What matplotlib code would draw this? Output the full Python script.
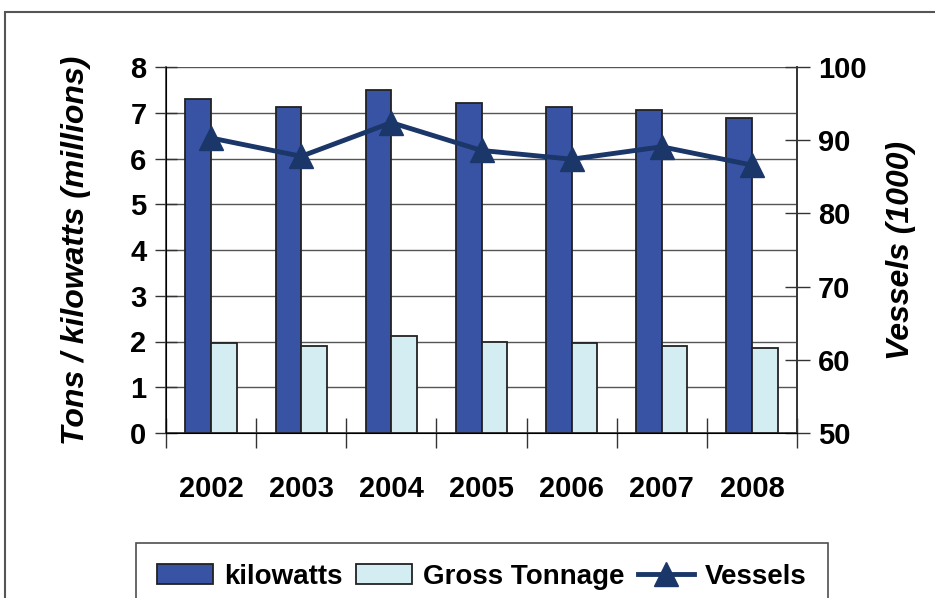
import matplotlib
matplotlib.use("Agg")
import matplotlib.pyplot as plt
from matplotlib.patches import Rectangle
import numpy as np

years = ["2002", "2003", "2004", "2005", "2006", "2007", "2008"]
kilowatts = [7.3, 7.12, 7.5, 7.22, 7.12, 7.07, 6.88]
gross_tonnage = [1.96, 1.91, 2.11, 2.0, 1.96, 1.91, 1.85]
vessels = [90.3, 87.8, 92.4, 88.6, 87.4, 89.1, 86.6]

plt.rcParams["font.family"] = ["Liberation Sans", "DejaVu Sans"]
plt.rcParams["font.weight"] = "bold"
fs = 21

fig = plt.figure(figsize=(9.35, 5.98), dpi=100)
ax = fig.add_axes([166/935, 1-433/598, (797-166)/935, (433-67)/598])

x = np.arange(len(years))
w = 0.285
ax.bar(x - w/2, kilowatts, w, color="#3953A4", edgecolor="#222222", linewidth=1.3,
       label="kilowatts", zorder=3)
ax.bar(x + w/2, gross_tonnage, w, color="#D4EDF3", edgecolor="#222222", linewidth=1.3,
       label="Gross Tonnage", zorder=3)

ax.set_xlim(-0.5, len(years) - 0.5)
ax.set_ylim(0, 8)
ax.set_yticks(range(0, 9))
ax.yaxis.grid(True, color="#555555", linewidth=1.0)
ax.set_axisbelow(True)
ax.set_xticks(x)
ax.set_xticklabels(years, fontsize=fs, fontweight="bold")
ax.set_xticks(np.arange(-0.5, len(years)), minor=True)
ax.tick_params(axis="x", which="major", length=0, pad=30)
ax.tick_params(axis="x", which="minor", direction="inout", length=22, width=1, color="#333333")
ax.tick_params(axis="y", direction="inout", length=16, width=1, labelsize=fs, pad=6,
               color="#333333")
for lab in ax.get_yticklabels():
    lab.set_fontweight("bold")
ax.spines["top"].set_visible(False)
for s in ["left", "bottom", "right"]:
    ax.spines[s].set_color("#333333")
    ax.spines[s].set_linewidth(1.2)
ax.set_ylabel("Tons / kilowatts (millions)", fontsize=23, fontweight="bold",
              fontstyle="italic", labelpad=28)

ax2 = ax.twinx()
ax2.plot(x, vessels, color="#1B3668", linewidth=3.5, marker="^", markersize=17,
         label="Vessels", zorder=4)
ax2.set_ylim(50, 100)
ax2.set_yticks(range(50, 101, 10))
ax2.tick_params(axis="y", direction="inout", length=18, width=1, labelsize=fs, pad=6,
                color="#333333")
for lab in ax2.get_yticklabels():
    lab.set_fontweight("bold")
ax2.spines["top"].set_visible(False)
ax2.spines["right"].set_color("#333333")
ax2.spines["right"].set_linewidth(1.2)
ax2.set_ylabel("Vessels (1000)", fontsize=23, fontweight="bold", fontstyle="italic",
               labelpad=14)

h1, l1 = ax.get_legend_handles_labels()
h2, l2 = ax2.get_legend_handles_labels()
leg = fig.legend(h1 + h2, l1 + l2, loc="upper center", bbox_to_anchor=(482/935, 1-543/598),
                 ncol=3, frameon=True, fancybox=False, fontsize=20, handlelength=2.0,
                 handletextpad=0.4, columnspacing=0.5, borderpad=0.75, borderaxespad=0)
leg.get_frame().set_edgecolor("#222222")
leg.get_frame().set_linewidth(1.2)

fig.patches.append(Rectangle((5/935, -0.1), 1.1, 1 - 12/598 + 0.1, transform=fig.transFigure,
                             fill=False, edgecolor="#555555", linewidth=1.5))

fig.savefig("out.png", dpi=100)
